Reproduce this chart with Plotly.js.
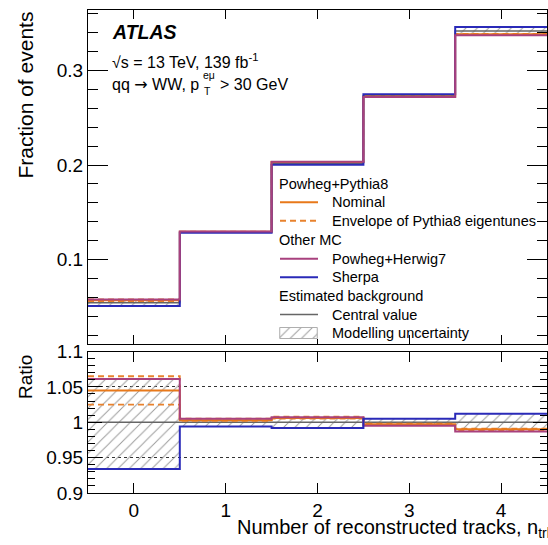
<!DOCTYPE html>
<html>
<head>
<meta charset="utf-8">
<script src="https://cdn.plot.ly/plotly-3.0.1.min.js"></script>
<style>html,body{margin:0;padding:0;background:#fff;}#chart{width:548px;height:545px;}</style>
</head>
<body>
<div id="chart"></div>
<script>
// ---------------- data ----------------
const binCenters = [0, 1, 2, 3, 4];
const xTickLabels = ['0', '1', '2', '3', '4'];
// estimated background central value (fraction of events)
const bkgCentral = [0.0543, 0.129, 0.202, 0.2735, 0.342];
// ratios to the central value
const ratioNominal = [1.045, 1.003, 1.006, 0.997, 0.990];
const ratioEnvUp   = [1.065, 1.005, 1.008, 0.998, 0.991];
const ratioEnvDown = [1.025, 1.002, 1.005, 0.996, 0.989];
const ratioHerwig  = [1.061, 1.005, 1.007, 0.995, 0.987];
const ratioSherpa  = [0.934, 0.994, 0.992, 1.005, 1.012];
const ratioUncUp   = [1.061, 1.005, 1.007, 1.005, 1.012];
const ratioUncDown = [0.934, 0.994, 0.992, 0.995, 0.987];
const ratioCentral = [1, 1, 1, 1, 1];

// ---------------- styling ----------------
const FONT = 'Liberation Sans, Arial, Helvetica, sans-serif';
const C_NOM = '#e8791a';
const C_ENV = '#e8822e';
const C_HER = '#a8417e';
const C_SHE = '#2a2ab8';
const C_CEN = '#666666';
const C_HATCH = '#9a9a9a';
const ENV_DASH = '6px,4px';

// layout geometry (px)
const W = 548, H = 545;
const M = {l: 88, r: 1, t: 10, b: 52};
const PW = W - M.l - M.r, PH = H - M.t - M.b;
const px2x = p => (p - M.l) / PW;
const px2y = p => (H - M.b - p) / PH;

const edges = binCenters.map(c => c - 0.5).concat([binCenters[binCenters.length - 1] + 0.5]);
function stepY(vals) { return vals.concat([vals[vals.length - 1]]); }
function scaled(r) { return r.map((v, i) => v * bkgCentral[i]); }

function stepTrace(vals, color, width, dash, xa, ya) {
  return {x: edges, y: stepY(vals), type: 'scatter', mode: 'lines',
    line: {shape: 'hv', color: color, width: width, dash: dash || 'solid'},
    xaxis: xa, yaxis: ya, showlegend: false, hoverinfo: 'skip'};
}
function bandTraces(lo, hi, xa, ya) {
  return [
    {x: edges, y: stepY(lo), type: 'scatter', mode: 'lines', line: {shape: 'hv', width: 0, color: 'rgba(0,0,0,0)'},
     xaxis: xa, yaxis: ya, showlegend: false, hoverinfo: 'skip'},
    {x: edges, y: stepY(hi), type: 'scatter', mode: 'lines', line: {shape: 'hv', width: 0, color: 'rgba(0,0,0,0)'},
     fill: 'tonexty', fillcolor: 'rgba(0,0,0,0)',
     fillpattern: {shape: '/', fgcolor: C_HATCH, size: 8, solidity: 0.12},
     xaxis: xa, yaxis: ya, showlegend: false, hoverinfo: 'skip'}
  ];
}

const traces = [];
// main panel
traces.push(...bandTraces(scaled(ratioUncDown), scaled(ratioUncUp), 'x', 'y'));
traces.push(stepTrace(bkgCentral, C_CEN, 1.5, null, 'x', 'y'));
traces.push(stepTrace(scaled(ratioEnvUp), C_ENV, 1.5, ENV_DASH, 'x', 'y'));
traces.push(stepTrace(scaled(ratioEnvDown), C_ENV, 1.5, ENV_DASH, 'x', 'y'));
traces.push(stepTrace(scaled(ratioNominal), C_NOM, 2, null, 'x', 'y'));
traces.push(stepTrace(scaled(ratioSherpa), C_SHE, 2, null, 'x', 'y'));
traces.push(stepTrace(scaled(ratioHerwig), C_HER, 2, null, 'x', 'y'));
// ratio panel
traces.push(...bandTraces(ratioUncDown, ratioUncUp, 'x2', 'y2'));
traces.push(stepTrace(ratioCentral, C_CEN, 1.5, null, 'x2', 'y2'));
traces.push(stepTrace(ratioEnvUp, C_ENV, 1.8, ENV_DASH, 'x2', 'y2'));
traces.push(stepTrace(ratioEnvDown, C_ENV, 1.8, ENV_DASH, 'x2', 'y2'));
traces.push(stepTrace(ratioNominal, C_NOM, 2, null, 'x2', 'y2'));
traces.push(stepTrace(ratioHerwig, C_HER, 2, null, 'x2', 'y2'));
traces.push(stepTrace(ratioSherpa, C_SHE, 2, null, 'x2', 'y2'));

// legend swatch for the hatched uncertainty (own tiny axes)
const sw = {x0: 279, x1: 318, y0: 327, y1: 339};
traces.push({x: [0, 1, 1, 0, 0], y: [0, 0, 1, 1, 0], type: 'scatter', mode: 'lines', fill: 'toself',
  fillcolor: 'rgba(0,0,0,0)', fillpattern: {shape: '/', fgcolor: C_HATCH, size: 8, solidity: 0.12},
  line: {color: '#aaaaaa', width: 1}, xaxis: 'x3', yaxis: 'y3', showlegend: false, hoverinfo: 'skip'});

const mainBottomPx = 344, ratioTopPx = 351.5;

const axBase = {showline: true, linecolor: '#000', linewidth: 1, mirror: 'allticks', ticks: 'inside',
  tickcolor: '#000', tickwidth: 1, zeroline: false, showgrid: false,
  tickfont: {family: FONT, size: 19, color: '#000'}};

const layout = {
  width: W, height: H, margin: M, paper_bgcolor: '#fff', plot_bgcolor: '#fff',
  showlegend: false,
  font: {family: FONT, color: '#000'},
  xaxis: Object.assign({}, axBase, {domain: [0, 1], anchor: 'y', range: [-0.5, 4.5], tickmode: 'array',
    tickvals: binCenters, ticktext: xTickLabels, ticklen: 9, showticklabels: false}),
  yaxis: Object.assign({}, axBase, {domain: [px2y(mainBottomPx), 1], anchor: 'x', range: [0.0105, 0.3642],
    dtick: 0.1, ticklen: 20,
    minor: {dtick: 0.02, ticklen: 10, ticks: 'inside', tickcolor: '#000'}}),
  xaxis2: Object.assign({}, axBase, {domain: [0, 1], anchor: 'y2', range: [-0.5, 4.5], tickmode: 'array',
    tickvals: binCenters, ticktext: xTickLabels, ticklen: 10, matches: 'x'}),
  yaxis2: Object.assign({}, axBase, {domain: [0, px2y(ratioTopPx)], anchor: 'x2', range: [0.9, 1.1],
    dtick: 0.05, ticklen: 14,
    showgrid: true, gridcolor: '#333', griddash: 'dot', gridwidth: 1,
    minor: {dtick: 0.01, ticklen: 7, ticks: 'inside', tickcolor: '#000', showgrid: false}}),
  xaxis3: {domain: [px2x(sw.x0), px2x(sw.x1)], anchor: 'y3', range: [-0.02, 1.02], visible: false, fixedrange: true},
  yaxis3: {domain: [px2y(sw.y1), px2y(sw.y0)], anchor: 'x3', range: [-0.04, 1.04], visible: false, fixedrange: true},
  shapes: [],
  annotations: []
};

function ann(text, pxX, pxY, size, opts) {
  return Object.assign({text: text, xref: 'paper', yref: 'paper', x: px2x(pxX), y: px2y(pxY),
    xanchor: 'left', yanchor: 'middle', showarrow: false,
    font: {family: FONT, size: size, color: '#000'}}, opts || {});
}
const A = layout.annotations;
// axis titles
A.push(ann('Fraction of events', 25, 9, 21, {textangle: -90, xanchor: 'center', yanchor: 'top'}));
A.push(ann('Ratio', 25, 353, 19, {textangle: -90, xanchor: 'center', yanchor: 'top'}));
A.push(ann('Number of reconstructed tracks, n<sub>trk</sub>', 557, 528, 20, {xanchor: 'right'}));
// labels
A.push(ann('<b><i>ATLAS</i></b>', 110, 32, 19.5));
A.push(ann('√s = 13 TeV, 139 fb<sup>-1</sup>', 110, 61, 16));
A.push(ann('qq <span style="font-family:DejaVu Sans">→</span> WW, p', 110, 84, 16));
A.push(ann('T', 202, 91, 10.5));
A.push(ann('eμ', 201, 75, 10.5));
A.push(ann('> 30 GeV', 218, 84, 16));

// manual legend
const LEG_FS = 14.5;
const rows = [
  {t: 'Powheg+Pythia8', y: 184, head: true},
  {t: 'Nominal', y: 202.3, c: C_NOM, d: 'solid', w: 2},
  {t: 'Envelope of Pythia8 eigentunes', y: 220.7, c: C_ENV, d: ENV_DASH, w: 2},
  {t: 'Other MC', y: 240, head: true},
  {t: 'Powheg+Herwig7', y: 258.7, c: C_HER, d: 'solid', w: 2},
  {t: 'Sherpa', y: 277.3, c: C_SHE, d: 'solid', w: 2},
  {t: 'Estimated background', y: 296, head: true},
  {t: 'Central value', y: 314.5, c: C_CEN, d: 'solid', w: 1.5},
  {t: 'Modelling uncertainty', y: 333, swatch: true}
];
rows.forEach(r => {
  if (r.head) {
    A.push(ann(r.t, 277, r.y, LEG_FS));
  } else {
    A.push(ann(r.t, 330, r.y, LEG_FS));
    if (!r.swatch) {
      layout.shapes.push({type: 'line', xref: 'paper', yref: 'paper', x0: px2x(280), x1: px2x(318),
        y0: px2y(r.y), y1: px2y(r.y), line: {color: r.c, width: r.w, dash: r.d}});
    }
  }
});

Plotly.newPlot('chart', traces, layout, {staticPlot: true, displayModeBar: false});
</script>
</body>
</html>
